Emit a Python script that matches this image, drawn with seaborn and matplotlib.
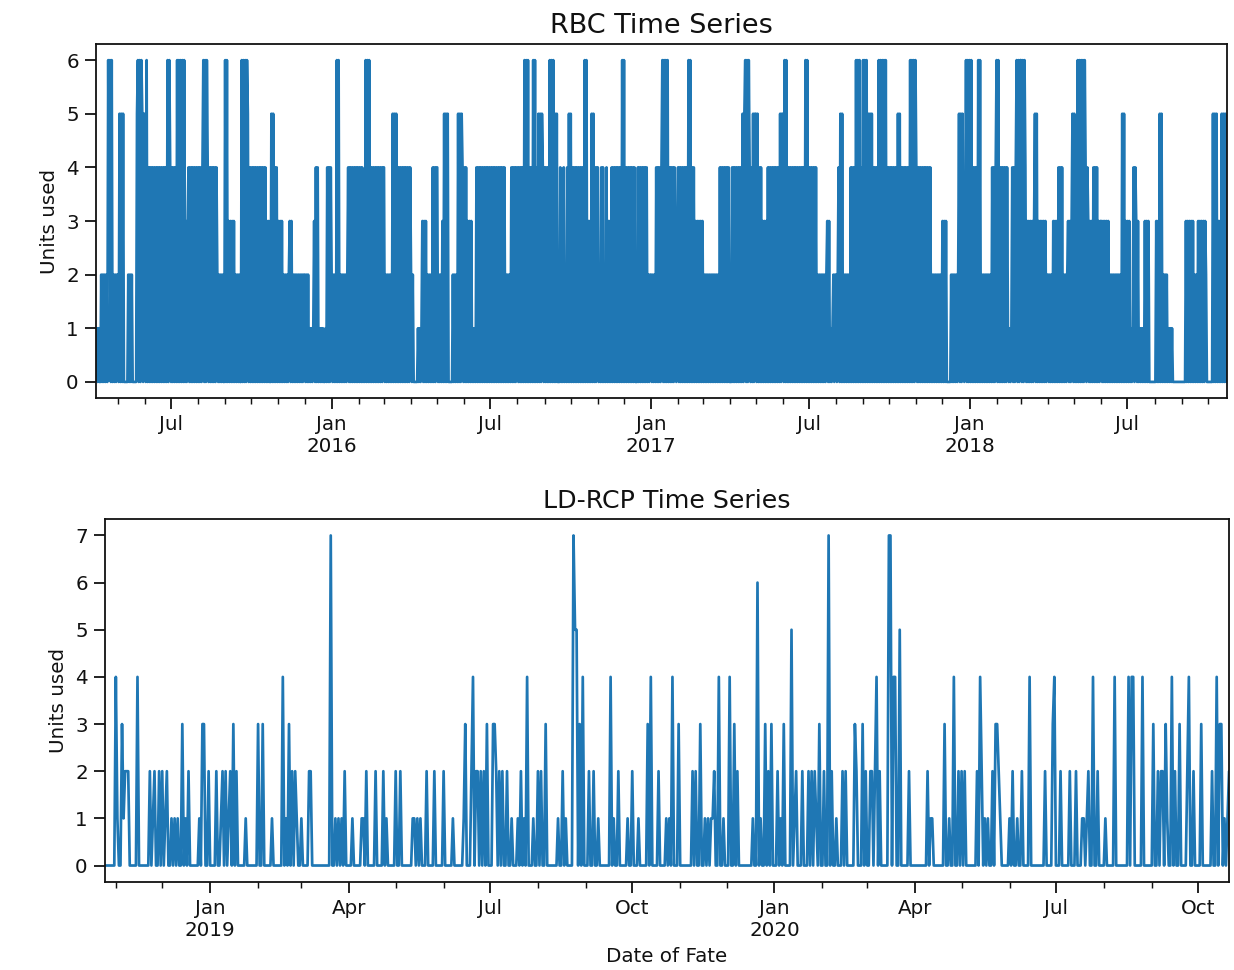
import pandas as pd
import matplotlib
matplotlib.use("Agg")
import matplotlib.pyplot as plt
import matplotlib.dates as mdates
from matplotlib.ticker import FuncFormatter, MultipleLocator
import seaborn as sns

# Daily units used, one digit per day, one string per calendar month.
RBC_START = "2015-04-06"
RBC_DAILY = [
    "1101002020 2020626060 20202",
    "2050505000 0020202000 0056060650 5",
    "5060404040 4040404040 4040406064",
    "0404040606 0606060303 4040404040 4",
    "0404046060 6404040404 0420202020 0",
    "6060303030 3020202006 0606065040",
    "4040404040 4040404030 3005050404 0",
    "3030302020 2023030202 0202020202",
    "2020201010 1304040101 0100104040 4",
    "2020206060 2020202024 0404040404 0",
    "4040403060 6060404040 404040404",
    "4020202020 5050504040 4040404040 4",
    "2020000010 1013030302 0202040404",
    "4020203050 5050000020 2020505054 0",
    "4040303030 1010404040 4040404040",
    "4040404040 4040404020 2020404040 4",
    "4040404060 6060404060 6040505054 0",
    "4040406060 6050500040 2040204050",
    "5040404040 4040406060 3030505040 4",
    "4020404020 4030304040 4040404060",
    "6040404040 4040004040 4040404020 2",
    "2020204040 4046060606 0404040420 2",
    "4040404040 4060604040 30303030",
    "3020202020 2020202020 4040404040 4",
    "0004040404 0404050560 6064040505",
    "5050404030 3030404040 4040404050 5",
    "5060604040 4040404040 4040406060",
    "4040404040 2020202020 2303010120 2",
    "2024050502 0202020404 0406060604 0",
    "6060605050 5040404060 6060606040",
    "4040404040 5050404040 4040606060 6",
    "4040404040 4040404020 2020202020",
    "3030300000 2020202025 0505202606 0",
    "6060404040 6060202020 2020204040 4",
    "6060404040 4041010140 40460606",
    "6060640303 0303035050 3030303030 2",
    "2020203030 3040404020 2023030350",
    "5040606060 6064043030 3040404030 3",
    "3030303030 2020202020 2020505030",
    "3030101404 3030101010 3030300000 0",
    "0030305050 2020201010 1000000000 0",
    "0000030303 0303020203 0303030320",
    "0000005050 5030305050 503",
]

LDRCP_START = "2018-10-25"
LDRCP_DAILY = [
    "0000000",
    "4100312220 0000400000 0020120020",
    "2012001010 1003010200 0000103300 2",
    "0000200120 2012030200 0001000000 0",
    "3003000001 0000004010 30202100",
    "1000022000 0000000007 0010101020 0",
    "0010000011 0200000200 0020100000",
    "2002000000 0110101000 2000020000 0",
    "2000001000 0001300024 0220202030",
    "0033202020 0200100010 2010400010 0",
    "2020030000 0001002010 0007550304 0",
    "0020020010 0000004010 0200000100",
    "2000100000 3040000200 0010104000 3",
    "0000000020 2003001010 1120040010",
    "0040030200 0000000100 6010030203 0",
    "0020103000 0501200020 0020202103 0",
    "0200702001 0002020000 032000302",
    "0022024020 0000770440 0500000200 0",
    "0000000020 1100000003 0010040020",
    "2020000000 2042010100 2033210000 0",
    "1020010020 0004000000 0002000034",
    "0002000002 0002000110 1200400200 0",
    "0100000400 0000004044 0000040000 0",
    "0300202203 1004020030 0002400200",
    "0030000002 0040330101 2",
]

LINE_COLOR = "#1f77b4"


def daily_frame(start, chunks):
    values = [int(c) for chunk in chunks for c in chunk.replace(" ", "")]
    dates = pd.date_range(start, periods=len(values), freq="D")
    return pd.DataFrame({"Date of Fate": dates, "Units used": values})


def month_label(x, pos=None):
    d = mdates.num2date(x)
    if d.month == 1:
        return f"Jan\n{d.year}"
    return d.strftime("%b")


sns.set_style("ticks")
plt.rcParams["font.family"] = ["DejaVu Sans"]
for key in ("text.color", "axes.labelcolor", "xtick.color", "ytick.color",
            "axes.edgecolor"):
    plt.rcParams[key] = "#111111"

rbc = daily_frame(RBC_START, RBC_DAILY)
ldrcp = daily_frame(LDRCP_START, LDRCP_DAILY)

fig = plt.figure(figsize=(1234 / 130, 970 / 130), dpi=130)
ax_top = fig.add_axes([0.0778, 0.5897, 0.9165, 0.3649])
ax_bot = fig.add_axes([0.0851, 0.0907, 0.9109, 0.3743])

panels = [
    (ax_top, rbc, "RBC Time Series", [1, 7], "", 15),
    (ax_bot, ldrcp, "LD-RCP Time Series", [1, 4, 7, 10], "Date of Fate", 14),
]

for ax, df, title, majors, xlabel, title_size in panels:
    sns.lineplot(data=df, x="Date of Fate", y="Units used", ax=ax,
                 color=LINE_COLOR, linewidth=1.5, errorbar=None)
    ax.set_xlim(df["Date of Fate"].iloc[0], df["Date of Fate"].iloc[-1])
    ymax = df["Units used"].max()
    ax.set_ylim(-0.05 * ymax, 1.05 * ymax)
    ax.yaxis.set_major_locator(MultipleLocator(1))
    ax.xaxis.set_major_locator(mdates.MonthLocator(bymonth=majors))
    ax.xaxis.set_minor_locator(mdates.MonthLocator())
    ax.xaxis.set_major_formatter(FuncFormatter(month_label))
    ax.tick_params(axis="both", which="major", labelsize=11, length=6, width=1)
    ax.tick_params(axis="x", which="minor", length=3.5, width=0.8)
    for lbl in ax.get_xticklabels():
        lbl.set_ha("center")
    ax.set_title(title, fontsize=title_size)
    ax.set_xlabel(xlabel, fontsize=11)
    ax.set_ylabel("Units used", fontsize=11)
    for spine in ax.spines.values():
        spine.set_linewidth(1.0)

fig.savefig("out.png", dpi=130)
